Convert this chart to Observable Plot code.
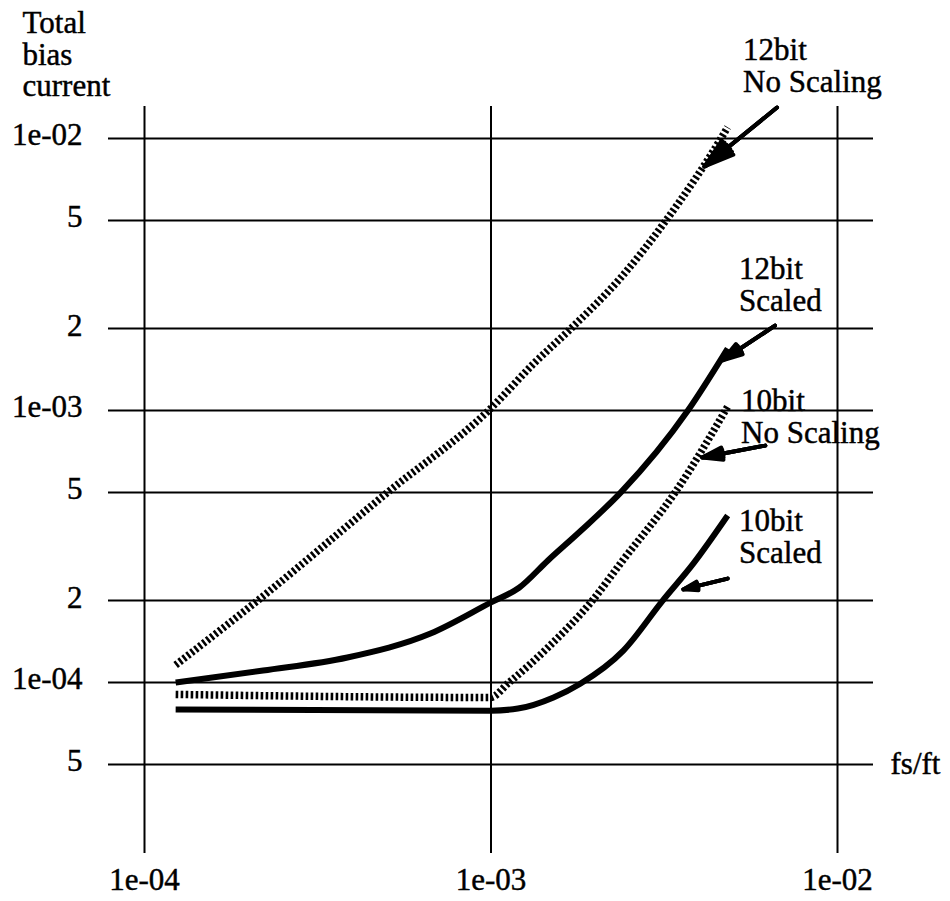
<!DOCTYPE html>
<html>
<head>
<meta charset="utf-8">
<script src="https://cdn.jsdelivr.net/npm/d3@7"></script>
<script src="https://cdn.jsdelivr.net/npm/@observablehq/plot@0.6"></script>
<style>
  html, body { margin: 0; padding: 0; background: #fff; }
  #chart svg { display: block; }
  #chart svg, #chart svg text { font-family: "Liberation Serif", "Times New Roman", serif !important; }
  #chart svg text { stroke: #000; stroke-width: 0.45px; }
</style>
</head>
<body>
<div id="chart"></div>
<script>
// ---- Axis ticks and labels ----
const xTicks = [1e-4, 1e-3, 1e-2];
const xTickLabels = ["1e-04", "1e-03", "1e-02"];
const yTicks = [1e-2, 5e-3, 2e-3, 1e-3, 5e-4, 2e-4, 1e-4, 5e-5];
const yTickLabels = ["1e-02", "5", "2", "1e-03", "5", "2", "1e-04", "5"];

// ---- Series (fs/ft vs total bias current) ----
const x12NoScale = [1.23e-4, 2.12e-4, 5.03e-4, 1.0e-3, 1.33e-3, 1.70e-3, 2.37e-3, 3.20e-3, 4.61e-3, 4.82e-3];
const y12NoScale = [1.16e-4, 2.0e-4, 5.0e-4, 1.02e-3, 1.49e-3, 2.0e-3, 3.08e-3, 5.0e-3, 1.0e-2, 1.10e-2];

const x12Scaled = [1.23e-4, 2.20e-4, 3.85e-4, 6.69e-4, 1.0e-3, 1.205e-3, 1.46e-3, 1.82e-3, 2.37e-3, 3.70e-3, 4.82e-3];
const y12Scaled = [1.0e-4, 1.107e-4, 1.236e-4, 1.514e-4, 1.97e-4, 2.23e-4, 2.81e-4, 3.62e-4, 5.0e-4, 1.0e-3, 1.69e-3];

const x10NoScale = [1.23e-4, 9.94e-4, 1.127e-3, 1.46e-3, 1.96e-3, 2.40e-3, 3.40e-3, 4.84e-3];
const y10NoScale = [9.04e-5, 8.81e-5, 1.0e-4, 1.345e-4, 2.0e-4, 2.81e-4, 5.0e-4, 1.043e-3];

const x10Scaled = [1.23e-4, 1.0e-3, 1.196e-3, 1.515e-3, 1.81e-3, 2.41e-3, 3.13e-3, 3.84e-3, 4.82e-3];
const y10Scaled = [7.96e-5, 7.88e-5, 8.02e-5, 8.81e-5, 9.9e-5, 1.31e-4, 2.0e-4, 2.74e-4, 4.11e-4];

// ---- Annotations ----
const seriesLabels = ["12bit\nNo Scaling", "12bit\nScaled", "10bit\nNo Scaling", "10bit\nScaled"];
const labelX = [5.34e-3, 5.20e-3, 5.27e-3, 5.20e-3];
const labelY = [2.35e-2, 3.68e-3, 1.205e-3, 4.36e-4];

const arrowX1 = [6.69e-3, 6.6e-3, 6.19e-3, 4.82e-3];
const arrowY1 = [1.30e-2, 2.05e-3, 7.43e-4, 2.41e-4];
const arrowX2 = [4.13e-3, 4.66e-3, 4.07e-3, 3.59e-3];
const arrowY2 = [7.89e-3, 1.53e-3, 6.72e-4, 2.20e-4];

const yTitle = "Total\nbias\ncurrent";
const xTitle = "fs/ft";

// ---- Build tables ----
const toRows = (xs, ys) => xs.map((x, i) => ({x, y: ys[i]}));
const s12n = toRows(x12NoScale, y12NoScale);
const s12s = toRows(x12Scaled, y12Scaled);
const s10n = toRows(x10NoScale, y10NoScale);
const s10s = toRows(x10Scaled, y10Scaled);
const labelRows = seriesLabels.map((t, i) => ({t, x: labelX[i], y: labelY[i]}));
const arrowRows = arrowX1.map((x1, i) => ({x1, y1: arrowY1[i], x2: arrowX2[i], y2: arrowY2[i]}));

const FONT = "Liberation Serif";
const FS = 31;
const INK = "#000";

const dashed = {x: "x", y: "y", stroke: INK, strokeWidth: 7.5, strokeDasharray: "2.6,2.4",
  strokeLinecap: "butt", strokeLinejoin: "round", curve: "monotone-x"};
const solid = {x: "x", y: "y", stroke: INK, strokeWidth: 6, strokeLinecap: "butt",
  strokeLinejoin: "round", curve: "monotone-x"};
const arrowOpts = angle => ({x1: "x1", y1: "y1", x2: "x2", y2: "y2", stroke: INK, strokeWidth: 4,
  headLength: 24, headAngle: angle});

const chart = Plot.plot({
  width: 950,
  height: 901,
  marginLeft: 108,
  marginRight: 77,
  marginTop: 106,
  marginBottom: 48,
  style: {fontFamily: FONT, fontSize: FS + "px", color: INK, background: "#fff"},
  x: {type: "log", domain: [1e-4, 1e-2], range: [144, 837]},
  y: {type: "log", domain: [1e-2, 1e-4], range: [138, 682]},
  marks: [
    Plot.gridY(yTicks, {stroke: INK, strokeOpacity: 1, strokeWidth: 2}),
    Plot.gridX(xTicks, {stroke: INK, strokeOpacity: 1, strokeWidth: 2}),
    Plot.axisY(yTicks, {anchor: "left", tickSize: 0, tickPadding: 26, fontSize: FS, fontFamily: FONT, dy: -3,
      tickFormat: d => yTickLabels[yTicks.indexOf(d)]}),
    Plot.axisX(xTicks, {anchor: "bottom", tickSize: 0, tickPadding: 14, fontSize: FS, fontFamily: FONT,
      tickFormat: d => xTickLabels[xTicks.indexOf(d)]}),
    Plot.line(s12n, dashed),
    Plot.line(s10n, dashed),
    Plot.line(s12s, solid),
    Plot.line(s10s, solid),
    Plot.arrow(arrowRows, arrowOpts(34)),
    Plot.arrow(arrowRows, arrowOpts(22)),
    Plot.arrow(arrowRows, arrowOpts(10)),
    Plot.text(labelRows, {x: "x", y: "y", text: "t", textAnchor: "start", lineAnchor: "top",
      lineHeight: 1.02, fontSize: FS, fontFamily: FONT, fill: INK}),
    Plot.text([yTitle], {frameAnchor: "top-left", dx: -86, dy: -96, textAnchor: "start",
      lineAnchor: "top", lineHeight: 1.02, fontSize: FS, fontFamily: FONT, fill: INK}),
    Plot.text([xTitle], {y: [5e-5], frameAnchor: "right", dx: 17, textAnchor: "start",
      fontSize: FS, fontFamily: FONT, fill: INK})
  ]
});

document.getElementById("chart").appendChild(chart);
</script>
</body>
</html>
